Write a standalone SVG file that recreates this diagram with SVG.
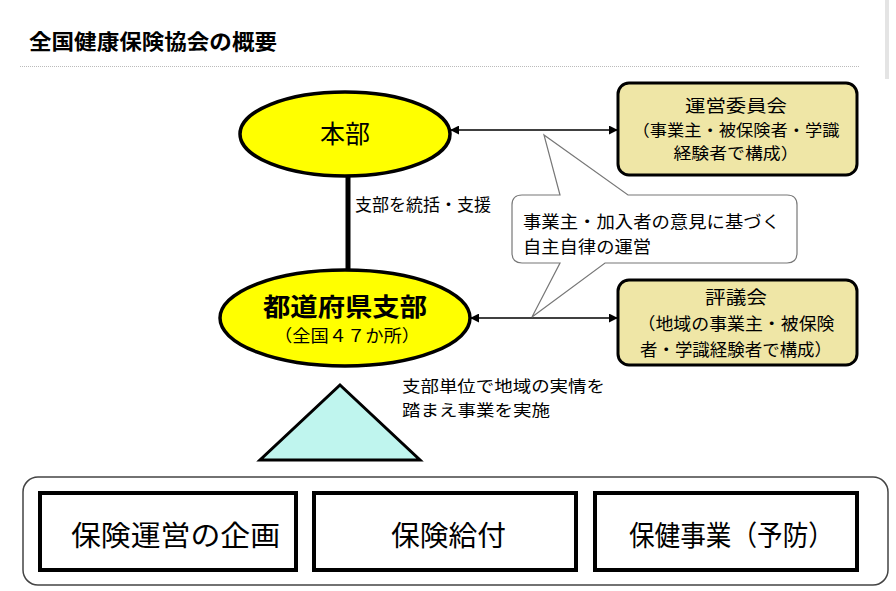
<svg xmlns="http://www.w3.org/2000/svg" width="896" height="591" viewBox="0 0 896 591">
<defs>
<style>
text{font-family:"Noto Sans CJK JP","Liberation Sans",sans-serif;fill:#000}
.ell{fill:#ffff00;stroke:#000;stroke-width:3.5}
.com{fill:#efe6a6;stroke:#000;stroke-width:3}
.box{fill:#fff;stroke:#000;stroke-width:4}
.conn{stroke:#000;stroke-width:1.5;fill:none}
.c{text-anchor:middle}
</style>
<marker id="ah" viewBox="0 0 10 10" refX="9" refY="5" markerWidth="9" markerHeight="9" markerUnits="userSpaceOnUse" orient="auto-start-reverse">
<path d="M0,0 L10,5 L0,10 z" fill="#000"/>
</marker>
</defs>
<rect width="896" height="591" fill="#fff"/>
<rect x="885" y="0" width="4" height="79" fill="#e4e4e4"/>
<text x="29" y="49" font-size="21" font-weight="bold" textLength="248" lengthAdjust="spacingAndGlyphs">全国健康保険協会の概要</text>
<line x1="20" y1="66.5" x2="860" y2="66.5" stroke="#bbb" stroke-width="1" stroke-dasharray="1,1"/>

<g id="connectors">
<line x1="348" y1="176" x2="348" y2="271" stroke="#000" stroke-width="5"/>
<line class="conn" x1="451" y1="130" x2="617" y2="130" marker-start="url(#ah)" marker-end="url(#ah)"/>
<line class="conn" x1="471" y1="318" x2="617" y2="318" marker-start="url(#ah)" marker-end="url(#ah)"/>
</g>

<g id="honbu">
<ellipse class="ell" cx="345" cy="134" rx="105" ry="42"/>
<text class="c" x="345" y="143" font-size="25">本部</text>
</g>
<text x="355" y="211" font-size="17">支部を統括・支援</text>

<g id="shibu">
<ellipse class="ell" cx="345" cy="318" rx="125" ry="48"/>
<text class="c" x="345" y="316" font-size="25" font-weight="bold" textLength="164" lengthAdjust="spacingAndGlyphs">都道府県支部</text>
<text class="c" x="347" y="342" font-size="17" textLength="146" lengthAdjust="spacingAndGlyphs">（全国４７か所）</text>
</g>

<g id="unei">
<rect class="com" x="618" y="83" width="239" height="92" rx="11"/>
<text class="c" x="736" y="112" font-size="17" textLength="102" lengthAdjust="spacingAndGlyphs">運営委員会</text>
<text class="c" x="736" y="136" font-size="16" textLength="207" lengthAdjust="spacingAndGlyphs">（事業主・被保険者・学識</text>
<text class="c" x="736" y="159" font-size="16" textLength="125" lengthAdjust="spacingAndGlyphs">経験者で構成）</text>
</g>

<g id="hyogi">
<rect class="com" x="618" y="280" width="239" height="85" rx="11"/>
<text class="c" x="736" y="304" font-size="18" textLength="62" lengthAdjust="spacingAndGlyphs">評議会</text>
<text class="c" x="736" y="330" font-size="17" textLength="197" lengthAdjust="spacingAndGlyphs">（地域の事業主・被保険</text>
<text class="c" x="736" y="356" font-size="17" textLength="192" lengthAdjust="spacingAndGlyphs">者・学識経験者で構成）</text>
</g>

<g id="callout">
<path d="M522,195 L560,195 L544,135 L628,195 L787,195 Q797,195 797,205 L797,253 Q797,263 787,263 L605,263 L532,317 L560,263 L522,263 Q512,263 512,253 L512,205 Q512,195 522,195 Z" fill="#fff" stroke="#777" stroke-width="1.2"/>
<text x="523" y="228" font-size="17" textLength="257" lengthAdjust="spacingAndGlyphs">事業主・加入者の意見に基づく</text>
<text x="523" y="253" font-size="17" textLength="128" lengthAdjust="spacingAndGlyphs">自主自律の運営</text>
</g>

<text x="402" y="392" font-size="16" textLength="203" lengthAdjust="spacingAndGlyphs">支部単位で地域の実情を</text>
<text x="402" y="416" font-size="16" textLength="148" lengthAdjust="spacingAndGlyphs">踏まえ事業を実施</text>

<g id="triangle">
<polygon points="340,385 420,460 260,460" fill="#bff5ee" stroke="#000" stroke-width="3"/>
</g>

<g id="container">
<rect x="23" y="477" width="865" height="108" rx="15" fill="#fff" stroke="#444" stroke-width="1.5"/>
</g>
<g id="kikaku">
<rect class="box" x="40" y="493" width="256" height="77"/>
<text x="71" y="546" font-size="28" textLength="209" lengthAdjust="spacingAndGlyphs">保険運営の企画</text>
</g>
<g id="kyufu">
<rect class="box" x="314" y="493" width="262" height="77"/>
<text x="391" y="546" font-size="28" textLength="115" lengthAdjust="spacingAndGlyphs">保険給付</text>
</g>
<g id="hoken">
<rect class="box" x="595" y="493" width="262" height="77"/>
<text x="629" y="546" font-size="28" textLength="205" lengthAdjust="spacingAndGlyphs">保健事業（予防）</text>
</g>
</svg>
